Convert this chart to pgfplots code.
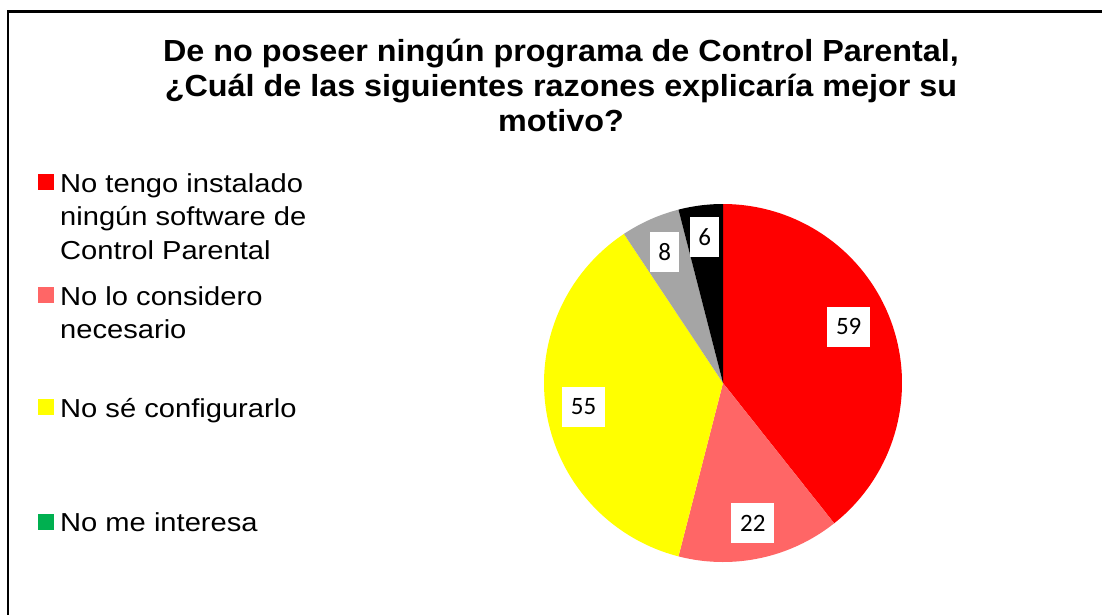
\documentclass[border=0pt]{standalone}
\usepackage{pgfplots}
\pgfplotsset{compat=1.18}
\usepackage{pgfplotstable}
\usepackage{fontspec}
\setmainfont{Liberation Sans}
\newfontfamily\titlefont[FakeStretch=1.06]{Liberation Sans Bold}
\newfontfamily\legfont[FakeStretch=1.12]{Liberation Sans}
\newfontfamily\labfont{Carlito}
\definecolor{pRed}{HTML}{FF0000}
\definecolor{pSalmon}{HTML}{FF6666}
\definecolor{pYellow}{HTML}{FFFF00}
\definecolor{pGreen}{HTML}{00B050}
\definecolor{pGray}{HTML}{A5A5A5}
\definecolor{pBlack}{HTML}{000000}
\pgfplotstableread{
val
59
22
55
0
8
6
}\piedata
\pgfplotstablegetelem{0}{val}\of\piedata\edef\vA{\pgfplotsretval}
\pgfplotstablegetelem{1}{val}\of\piedata\edef\vB{\pgfplotsretval}
\pgfplotstablegetelem{2}{val}\of\piedata\edef\vC{\pgfplotsretval}
\pgfplotstablegetelem{3}{val}\of\piedata\edef\vD{\pgfplotsretval}
\pgfplotstablegetelem{4}{val}\of\piedata\edef\vE{\pgfplotsretval}
\pgfplotstablegetelem{5}{val}\of\piedata\edef\vF{\pgfplotsretval}
\pgfmathsetmacro\tot{\vA+\vB+\vC+\vD+\vE+\vF}
\pgfmathsetmacro\degs{360/\tot}
\pgfmathsetmacro\aA{90}
\pgfmathsetmacro\aB{\aA-\degs*\vA}
\pgfmathsetmacro\aC{\aB-\degs*\vB}
\pgfmathsetmacro\aD{\aC-\degs*\vC}
\pgfmathsetmacro\aE{\aD-\degs*\vD}
\pgfmathsetmacro\aF{\aE-\degs*\vE}
\pgfmathsetmacro\aG{\aF-\degs*\vF}
\pgfmathsetmacro\mA{(\aA+\aB)/2+5}
\pgfmathsetmacro\mB{(\aB+\aC)/2}
\pgfmathsetmacro\mC{(\aC+\aD)/2}
\pgfmathsetmacro\mE{(\aE+\aF)/2}
\pgfmathsetmacro\mF{(\aF+\aG)/2}
\newcommand\legtext{\legfont\fontsize{26bp}{30bp}\selectfont}
\newcommand\ttext{\titlefont\fontsize{30.5bp}{35bp}\selectfont}
\begin{document}
\begin{tikzpicture}
\path[use as bounding box] (0,0) rectangle (1102bp,-615bp);
\clip (0,0) rectangle (1102bp,-615bp);
\fill[white] (0,0) rectangle (1102bp,-615bp);
\begin{scope}[x=1bp,y=1bp]
\draw[line width=2.2bp] (8,-700) -- (8,-11.5) -- (1200,-11.5);
% title
\node[anchor=base, font=\ttext, inner sep=0pt] at (561,-61.7) {De no poseer ningún programa de Control Parental,};
\node[anchor=base, font=\ttext, inner sep=0pt] at (561,-96.7) {¿Cuál de las siguientes razones explicaría mejor su};
\node[anchor=base, font=\ttext, inner sep=0pt] at (561,-131.7) {motivo?};
% legend
\fill[pRed] (38,-174) rectangle (54,-190);
\node[anchor=base west, font=\legtext, inner sep=0pt] at (60,-192) {No tengo instalado};
\node[anchor=base west, font=\legtext, inner sep=0pt] at (60,-225.5) {ningún software de};
\node[anchor=base west, font=\legtext, inner sep=0pt] at (60,-259) {Control Parental};
\fill[pSalmon] (38,-287) rectangle (54,-303);
\node[anchor=base west, font=\legtext, inner sep=0pt] at (60,-305) {No lo considero};
\node[anchor=base west, font=\legtext, inner sep=0pt] at (60,-338) {necesario};
\fill[pYellow] (38,-399) rectangle (54,-415);
\node[anchor=base west, font=\legtext, inner sep=0pt] at (60,-417) {No sé configurarlo};
\fill[pGreen] (38,-513.5) rectangle (54,-529.5);
\node[anchor=base west, font=\legtext, inner sep=0pt] at (60,-531.5) {No me interesa};
\end{scope}
% pie
\begin{axis}[at={(723bp,-383bp)}, anchor=center, scale only axis, width=358bp, height=358bp,
  xmin=-1, xmax=1, ymin=-1, ymax=1, hide axis, clip=false]
\addplot[fill=pRed, draw=none, domain=\aB:\aA, samples=120, variable=\t] ({cos(\t)},{sin(\t)}) -- (axis cs:0,0) -- cycle;
\addplot[fill=pSalmon, draw=none, domain=\aC:\aB, samples=60, variable=\t] ({cos(\t)},{sin(\t)}) -- (axis cs:0,0) -- cycle;
\addplot[fill=pYellow, draw=none, domain=\aD:\aC, samples=120, variable=\t] ({cos(\t)},{sin(\t)}) -- (axis cs:0,0) -- cycle;
\addplot[fill=pGray, draw=none, domain=\aF:\aE, samples=30, variable=\t] ({cos(\t)},{sin(\t)}) -- (axis cs:0,0) -- cycle;
\addplot[fill=pBlack, draw=none, domain=\aG:\aF, samples=30, variable=\t] ({cos(\t)},{sin(\t)}) -- (axis cs:0,0) -- cycle;
\tikzset{vl/.style={fill=white, font=\labfont\fontsize{25bp}{30bp}\selectfont, inner xsep=9bp, inner ysep=0pt, minimum height=40bp}}
\node[vl] at (axis cs:{0.77*cos(\mA)},{0.77*sin(\mA)}) {\vA};
\node[vl] at (axis cs:{0.80*cos(\mB)},{0.80*sin(\mB)}) {\vB};
\node[vl] at (axis cs:{0.79*cos(\mC)},{0.79*sin(\mC)}) {\vC};
\node[vl, inner xsep=8bp] at (axis cs:{0.80*cos(\mE)},{0.80*sin(\mE)}) {\vE};
\node[vl, inner xsep=8bp] at (axis cs:{0.82*cos(\mF)},{0.82*sin(\mF)}) {\vF};
\end{axis}
\end{tikzpicture}
\end{document}
